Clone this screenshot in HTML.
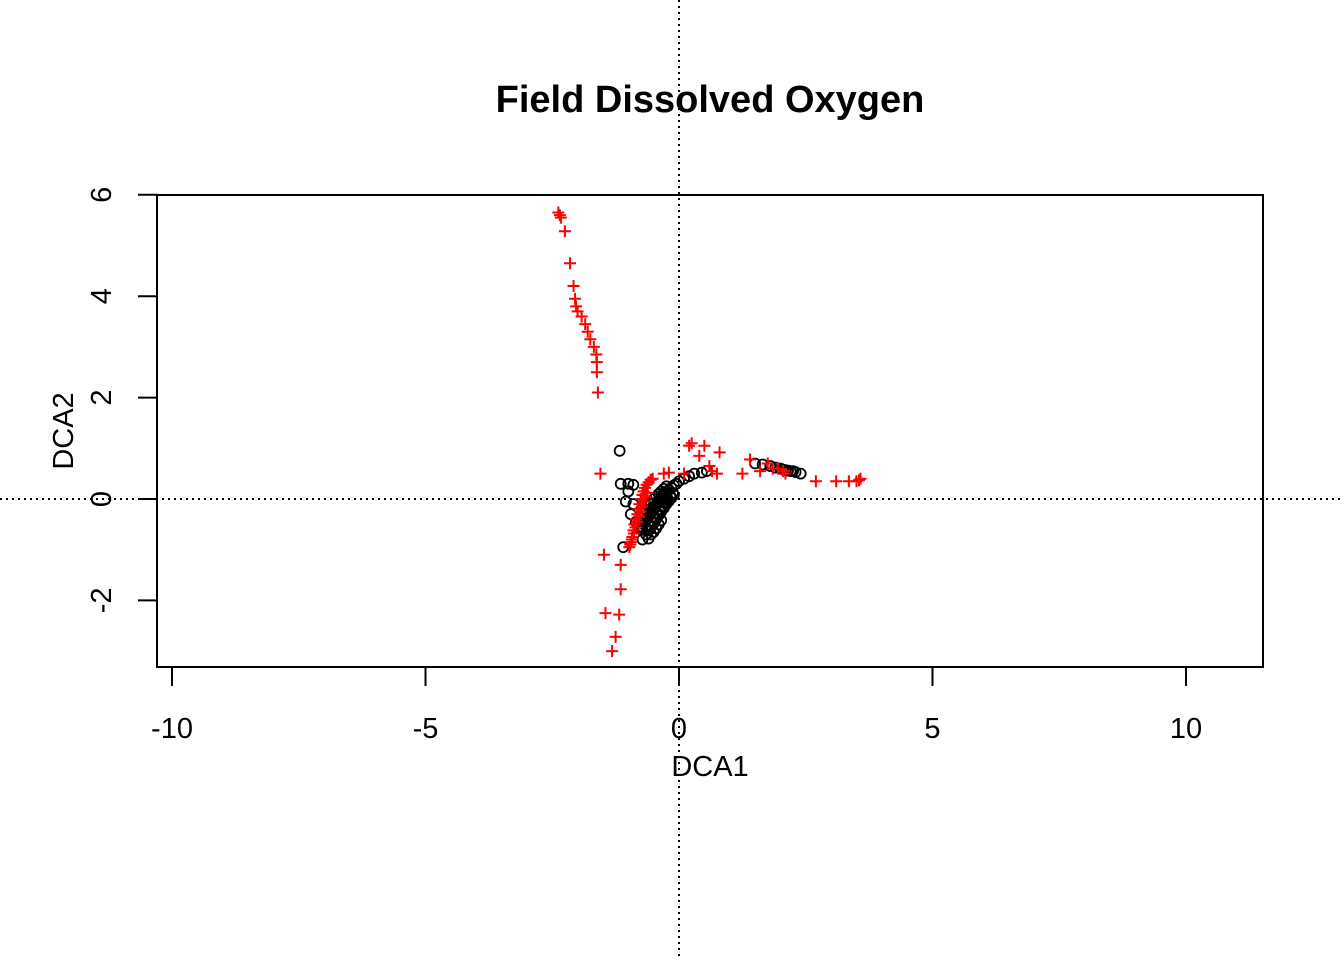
<!DOCTYPE html>
<html><head><meta charset="utf-8"><style>
html,body{margin:0;padding:0;background:#fff;width:1344px;height:960px;overflow:hidden}
svg text{font-family:"Liberation Sans",Arial,sans-serif}
</style></head><body>
<svg id="chart" width="1344" height="960" xmlns="http://www.w3.org/2000/svg">
<text x="710" y="112" text-anchor="middle" font-size="38" font-weight="bold">Field Dissolved Oxygen</text>
<rect x="157" y="195" width="1106" height="472" fill="none" stroke="#000" stroke-width="2"/>
<g id="xaxis"></g>
<g id="yaxis"></g>
<text x="710" y="776" text-anchor="middle" font-size="29">DCA1</text>
<text transform="translate(73,431) rotate(-90)" text-anchor="middle" font-size="29">DCA2</text>
<g id="refs"></g>
<g id="sites"></g>
<g id="species"></g>
</svg>
<script>
const xTicks=[-10,-5,0,5,10];
const yTicks=[-2,0,2,4,6];
const siteX=[-1.17,-1.15,-1.0,-0.9,-1.0,-1.05,-0.95,-1.1,-0.72,-0.78,-0.85,-0.9,
-0.75,-0.7,-0.65,-0.6,-0.55,-0.5,-0.45,-0.4,-0.35,-0.3,-0.25,-0.2,-0.15,-0.1,-0.05,0.0,
-0.65,-0.6,-0.55,-0.5,-0.45,-0.4,-0.35,-0.3,-0.25,-0.2,-0.15,-0.1,
-0.8,-0.75,-0.7,-0.65,-0.6,-0.55,-0.5,-0.45,-0.4,-0.35,-0.3,-0.25,-0.6,-0.5,-0.4,-0.7,-0.68,
-0.62,-0.57,-0.52,-0.47,-0.42,-0.37,-0.32,-0.27,-0.22,-0.17,-0.12,
-0.72,-0.67,-0.62,-0.57,-0.52,-0.47,-0.42,-0.37,-0.32,-0.27,-0.55,-0.45,-0.35,-0.58,
0.1,0.2,0.3,0.45,0.55,1.5,1.65,1.8,1.9,2.0,2.05,2.1,2.15,2.2,2.25,2.3,2.4];
const siteY=[0.95,0.3,0.3,0.28,0.15,-0.05,-0.3,-0.95,-0.8,-0.55,-0.45,-0.1,
-0.6,-0.5,-0.42,-0.35,-0.28,-0.2,-0.12,-0.05,0.02,0.08,0.13,0.18,0.22,0.27,0.3,0.35,
-0.7,-0.62,-0.55,-0.48,-0.4,-0.32,-0.25,-0.18,-0.1,-0.04,0.02,0.08,
-0.45,-0.38,-0.3,-0.22,-0.15,-0.08,0.0,0.05,0.1,0.15,0.2,0.25,-0.78,-0.65,-0.5,-0.2,-0.05,
-0.6,-0.52,-0.44,-0.36,-0.28,-0.2,-0.13,-0.06,0.0,0.06,0.12,
-0.55,-0.46,-0.38,-0.3,-0.22,-0.14,-0.06,0.0,0.06,0.12,-0.7,-0.58,-0.42,-0.1,
0.4,0.45,0.5,0.52,0.55,0.7,0.68,0.65,0.62,0.6,0.58,0.57,0.56,0.55,0.55,0.53,0.5];
const specX=[-2.38,-2.35,-2.33,-2.25,-2.15,-2.08,-2.05,-2.03,-2.0,-1.92,-1.85,-1.8,-1.75,-1.68,-1.63,-1.62,-1.62,-1.6,
-1.55,-1.48,-1.15,-1.15,-1.45,-1.18,-1.25,-1.32,
-0.98,-0.95,-0.92,-0.9,-0.88,-0.85,-0.82,-0.8,-0.78,-0.75,-0.72,-0.7,-0.67,-0.64,-0.6,-0.56,-0.52,
-0.96,-0.93,-0.89,-0.86,-0.83,-0.79,-0.76,-0.73,-0.69,-0.66,-0.62,
-0.3,-0.2,0.1,0.2,0.25,0.5,0.4,0.8,0.6,0.65,0.75,
1.25,1.4,1.6,1.75,1.85,1.95,2.05,2.1,2.7,3.1,3.35,3.5,3.55,3.58];
const specY=[5.65,5.6,5.55,5.28,4.65,4.2,3.95,3.8,3.7,3.6,3.45,3.3,3.15,3.0,2.85,2.7,2.5,2.1,
0.5,-1.1,-1.3,-1.78,-2.25,-2.28,-2.72,-3.0,
-0.95,-0.85,-0.75,-0.62,-0.5,-0.4,-0.3,-0.2,-0.1,0.0,0.08,0.15,0.22,0.28,0.33,0.38,0.4,
-0.9,-0.8,-0.68,-0.56,-0.45,-0.35,-0.25,-0.15,-0.05,0.05,0.12,
0.5,0.52,0.5,1.05,1.1,1.05,0.85,0.92,0.65,0.55,0.5,
0.5,0.78,0.55,0.7,0.6,0.6,0.55,0.5,0.35,0.35,0.35,0.35,0.37,0.4];
const NS="http://www.w3.org/2000/svg";
const sx=v=>679+v*50.7, sy=v=>499-v*50.7;
function mk(t,a,p){const e=document.createElementNS(NS,t);for(const k in a)e.setAttribute(k,a[k]);p.appendChild(e);return e;}
const xa=document.getElementById('xaxis'),ya=document.getElementById('yaxis');
mk('line',{x1:sx(-10),x2:sx(10),y1:667,y2:667,stroke:'#000','stroke-width':2},xa);
xTicks.forEach(t=>{const g=mk('g',{},xa);


mk('line',{x1:sx(t),x2:sx(t),y1:667,y2:686,stroke:'#000','stroke-width':2},g);
const tx=mk('text',{x:sx(t),y:738,'text-anchor':'middle','font-size':29},g);tx.textContent=t;});
mk('line',{x1:157,x2:157,y1:sy(-2),y2:sy(6),stroke:'#000','stroke-width':2},ya);
yTicks.forEach(t=>{const g=mk('g',{},ya);


mk('line',{x1:138,x2:157,y1:sy(t),y2:sy(t),stroke:'#000','stroke-width':2},g);
const tx=mk('text',{transform:`translate(111,${sy(t)}) rotate(-90)`,'text-anchor':'middle','font-size':29},g);tx.textContent=t;});
const r=document.getElementById('refs');
const h=mk('line',{x1:0,x2:1344,y1:sy(0),y2:sy(0),stroke:'#000','stroke-width':2,'stroke-dasharray':'2,4'},r);


const v=mk('line',{x1:sx(0),x2:sx(0),y1:0,y2:960,stroke:'#000','stroke-width':2,'stroke-dasharray':'2,4'},r);


const sg=document.getElementById('sites');
siteX.forEach((x,i)=>{const c=mk('circle',{cx:sx(x),cy:sy(siteY[i]),r:5,fill:'none',stroke:'#000','stroke-width':1.8},sg);

});
const pg=document.getElementById('species');
specX.forEach((x,i)=>{const X=sx(x),Y=sy(specY[i]);
const p=mk('path',{d:`M${X-6},${Y}H${X+6}M${X},${Y-6}V${Y+6}`,stroke:'#f00','stroke-width':2,fill:'none'},pg);

});
</script>
</body></html>
